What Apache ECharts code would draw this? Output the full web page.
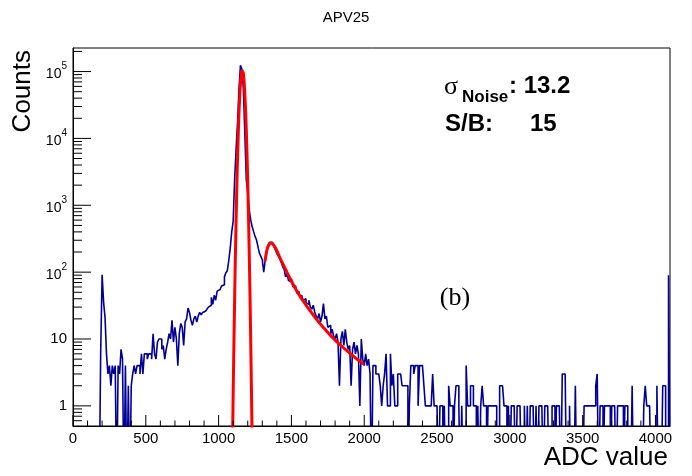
<!DOCTYPE html>
<html><head><meta charset="utf-8">
<script src="https://cdn.jsdelivr.net/npm/echarts@6/dist/echarts.min.js"></script>
<style>html,body{margin:0;padding:0;background:#fff;}#c{width:692px;height:476px;}</style>
</head><body><div id="c"></div>
<script>
// ---- data ----
const binStart = 0;
const binWidth = 10;
// counts per 10-ADC bin, 0..4100 (41 rows of 10 bins)
const counts = [
  0,0,0,0,0,0,0,0,0,0,
  0,0,0,0,0,0,0,0,0,6,
  91,36,21,6,3,4,2,4,3,4,
  0,4,3,7,5,0,4,0,2,0,
  2,3,4,3,4,4,3,6,3,6,
  6,5,6,6,5,12,6,5,9,10,
  10,7,8,5,7,9,12,10,19,9,
  15,10,4,12,17,15,8,18,20,29,
  25,19,16,20,22,18,22,25,23,25,
  26,27,28,30,32,42,33,45,38,52,
  55,57,62,65,85,98,105,150,230,400,
  575,2430,6840,17200,54300,124000,108000,54000,12200,2430,
  1535,861,610,484,407,343,305,243,193,172,
  153,100,150,215,255,280,280,265,240,215,
  190,175,160,140,120,110,85,95,75,72,
  80,60,62,55,48,52,42,45,38,40,
  35,33,38,30,28,32,25,22,20,24,
  18,22,34,20,22,15,16,12,14,11,
  10,12,9,2,10,13,8,14,9,7,
  8,2,7,9,6,8,6,1,10,5,
  4,6,4,5,3,0,4,4,3,3,
  3,2,1,2,3,6,1,1,6,2,
  3,1,1,3,3,3,2,2,2,2,
  0,1,4,4,3,4,4,1,4,4,
  4,2,1,1,1,1,1,3,1,1,
  1,0,1,1,0,1,0,0,2,1,
  1,0,1,2,2,1,0,1,0,0,
  4,1,1,2,2,1,1,0,1,0,
  1,2,1,1,0,1,1,1,1,1,
  1,0,0,2,2,2,1,1,0,1,
  0,1,1,1,0,1,1,1,0,0,
  1,0,1,0,1,1,1,0,1,0,
  1,1,1,0,1,1,1,0,0,1,
  1,0,1,1,1,0,3,3,3,0,
  0,1,0,0,0,2,0,0,0,0,
  0,1,1,1,1,1,1,1,1,2,
  3,0,1,1,0,1,1,1,1,0,
  1,1,1,0,1,1,1,1,0,1,
  1,0,0,0,2,0,0,0,0,0,
  0,0,1,2,1,1,1,0,0,0,
  0,2,0,0,0,2,2,0,0,90
];
// noise-peak fit curve (ADC, counts)
const gausFit = [[1095,0.23],[1100,1.5],[1105,8.2],[1110,39],[1115,163],[1120,586],[1125,1840],[1130,5000],[1135,11800],[1140,24300],[1145,43300],[1150,67000],[1155,90100],[1160,105000],[1163,108000],[1165,107000],[1170,94500],[1175,71900],[1180,47800],[1185,27500],[1190,13800],[1195,6000],[1200,2270],[1205,745],[1210,212],[1215,53],[1220,11.3],[1225,2.1],[1230,0.34]];
// signal fit curve (ADC, counts)
const signalFit = [[1319,145],[1330,204],[1342,248],[1358,273],[1376,257],[1399,211],[1422,162],[1456,115],[1490,81],[1547,48],[1610,30],[1670,20],[1728,14.2],[1785,10.4],[1840,8.0],[1895,6.3],[1950,5.0],[1999,4.2]];
const xMajorTicks = [0,500,1000,1500,2000,2500,3000,3500,4000];
const xMinorTicks = [100,200,300,400,600,700,800,900,1100,1200,1300,1400,1600,1700,1800,1900,2100,2200,2300,2400,2600,2700,2800,2900,3100,3200,3300,3400,3600,3700,3800,3900];
const yMajorTicks = [1,10,100,1000,10000,100000];
const yMinorTicks = [0.6,0.7,0.8,0.9,2,3,4,5,6,7,8,9,20,30,40,50,60,70,80,90,200,300,400,500,600,700,800,900,2000,3000,4000,5000,6000,7000,8000,9000,20000,30000,40000,50000,60000,70000,80000,90000,200000];

// ---- build ----
const X_MIN = 0, X_MAX = 4100, Y_MIN = 0.5, Y_MAX = 2.25e5;
const GRID = {left: 73, right: 22, top: 48, bottom: 50};
const GRID_W = 692 - GRID.left - GRID.right;
const GRID_H = 476 - GRID.top - GRID.bottom;
const ZERO_FLOOR = 0.05; // empty bins drawn below the frame (clipped)
const histData = counts.map((c, i) => [binStart + i * binWidth, c > 0 ? c : ZERO_FLOOR]);
histData.push([binStart + counts.length * binWidth, ZERO_FLOOR]);

const FONT = 'Liberation Sans';

// tick length (style) converted to axis units so the ticks go through the axis scales
function xLen(px) { return px * (X_MAX - X_MIN) / GRID_W; }
function yFactor(px) { return Math.pow(10, px * Math.log10(Y_MAX / Y_MIN) / GRID_H); }
const tickSeries = [];
function addTicks(values, isX, px) {
  values.forEach(v => {
    tickSeries.push({
      type: 'line', silent: true, symbol: 'none', clip: false, z: 6,
      data: isX ? [[v, Y_MIN], [v, Y_MIN * yFactor(px)]] : [[X_MIN, v], [X_MIN + xLen(px), v]],
      lineStyle: {color: '#000', width: 1}, emphasis: {disabled: true}
    });
  });
}
addTicks(xMajorTicks, true, 11);
addTicks(xMinorTicks, true, 5.5);
addTicks(yMajorTicks, false, 18);
addTicks(yMinorTicks, false, 9);

const chart = echarts.init(document.getElementById('c'));
chart.setOption({
  animation: false,
  title: {text: 'APV25', left: 'center', top: 10, padding: 0,
    textStyle: {fontSize: 15, fontWeight: 'normal', fontFamily: FONT, color: '#000'}},
  grid: {left: GRID.left, right: GRID.right, top: GRID.top, bottom: GRID.bottom, show: true, borderColor: '#000', borderWidth: 1},
  xAxis: {
    type: 'value', min: X_MIN, max: X_MAX, interval: 500, splitLine: {show: false},
    axisLine: {show: true, lineStyle: {color: '#000', width: 1}},
    axisTick: {show: false},
    axisLabel: {show: true, showMinLabel: true, showMaxLabel: false, margin: 5, fontSize: 15, fontFamily: FONT, color: '#000',
      formatter: function (v) { return String(Math.round(v)); }}
  },
  yAxis: {
    type: 'log', logBase: 10, min: Y_MIN, max: Y_MAX, splitLine: {show: false},
    axisLine: {show: true, lineStyle: {color: '#000', width: 1}},
    axisTick: {show: false},
    axisLabel: {show: true, showMinLabel: false, showMaxLabel: false, margin: 6, fontSize: 15, fontFamily: FONT, color: '#000',
      formatter: function (v) {
        const e = Math.round(Math.log10(v));
        if (e === 0) return '1';
        if (e === 1) return '10';
        return '{b|10}{e|' + e + '}';
      },
      rich: {
        b: {fontSize: 14, fontFamily: FONT, color: '#000', lineHeight: 20, verticalAlign: 'bottom'},
        e: {fontSize: 10, fontFamily: FONT, color: '#000', lineHeight: 20, verticalAlign: 'top'}
      }
    }
  },
  series: [
    {type: 'line', name: 'hist', data: histData, step: 'end',
      symbol: 'none', clip: true, lineStyle: {color: '#000099', width: 1.6}, z: 2},
    {type: 'line', name: 'noise fit', data: gausFit,
      symbol: 'none', clip: true, lineStyle: {color: '#ff0000', width: 3}, z: 3},
    {type: 'line', name: 'signal fit', data: signalFit, smooth: true,
      symbol: 'none', clip: true, lineStyle: {color: '#ff0000', width: 3}, z: 3}
  ].concat(tickSeries),
  graphic: [
    {type: 'text', x: 23, y: 50, rotation: Math.PI / 2,
      style: {text: 'Counts', font: '26px "Liberation Sans"', fill: '#000', align: 'right', verticalAlign: 'middle'}},
    {type: 'text', x: 668, y: 458,
      style: {text: 'ADC value', font: '26px "Liberation Sans"', fill: '#000', align: 'right', verticalAlign: 'middle'}},
    {type: 'text', x: 444, y: 87,
      style: {text: 'σ', font: '26px "Liberation Serif"', fill: '#000', align: 'left', verticalAlign: 'middle'}},
    {type: 'text', x: 462, y: 97.5,
      style: {text: 'Noise', font: 'bold 17px "Liberation Sans"', fill: '#000', align: 'left', verticalAlign: 'middle'}},
    {type: 'text', x: 509, y: 86.5,
      style: {text: ': 13.2', font: 'bold 24px "Liberation Sans"', fill: '#000', align: 'left', verticalAlign: 'middle'}},
    {type: 'text', x: 445, y: 124,
      style: {text: 'S/B:', font: 'bold 24px "Liberation Sans"', fill: '#000', align: 'left', verticalAlign: 'middle'}},
    {type: 'text', x: 530, y: 124,
      style: {text: '15', font: 'bold 24px "Liberation Sans"', fill: '#000', align: 'left', verticalAlign: 'middle'}},
    {type: 'text', x: 455, y: 298,
      style: {text: '(b)', font: '26px "Liberation Serif"', fill: '#000', align: 'center', verticalAlign: 'middle'}}
  ]
});
</script>
</body></html>
